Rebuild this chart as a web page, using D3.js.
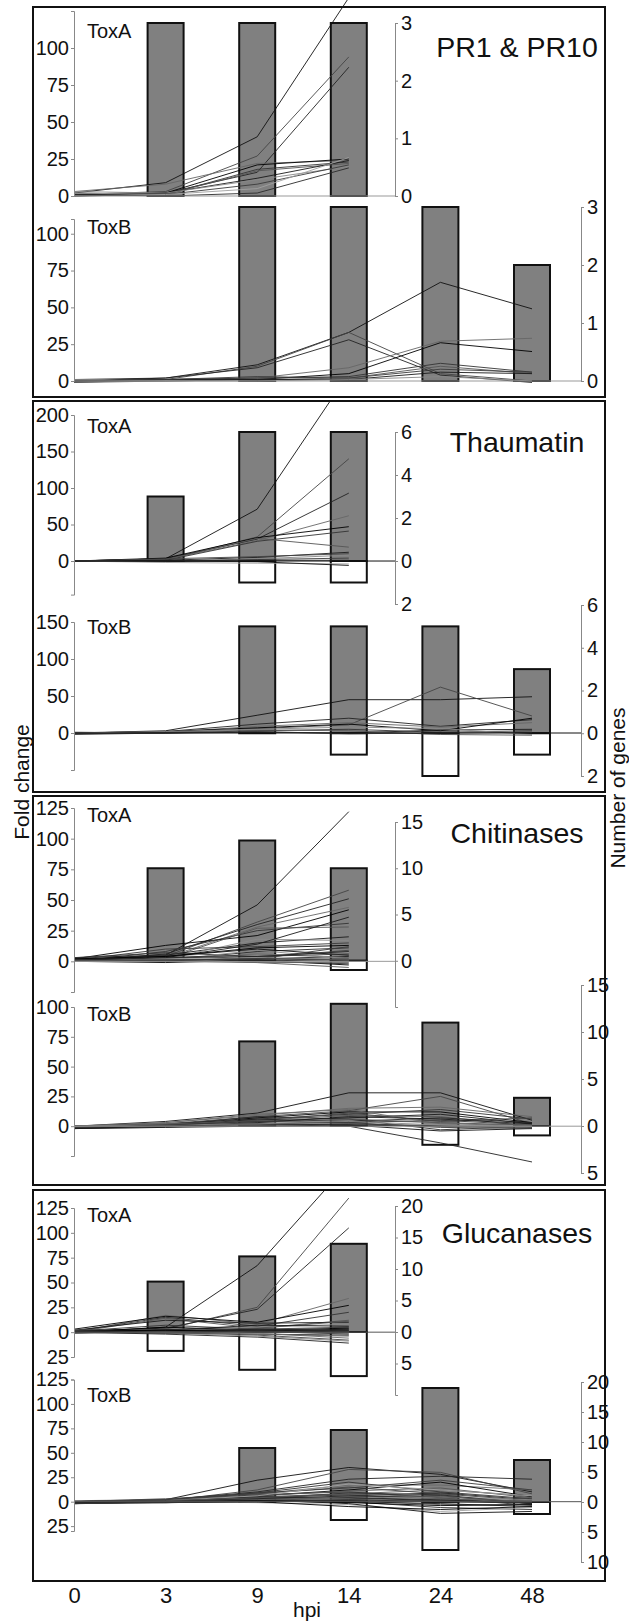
<!DOCTYPE html>
<html>
<head>
<meta charset="utf-8">
<script src="https://cdn.jsdelivr.net/npm/d3@7/dist/d3.min.js"></script>
<style>
  html, body { margin: 0; padding: 0; background: #fff; }
  svg { display: block; }
  text { font-family: "Liberation Sans", Arial, sans-serif; fill: #111; }
</style>
</head>
<body>
<svg id="chart" width="629" height="1621"></svg>
<script>
// Sampling times (hours post infiltration)
const hpi = ["0", "3", "9", "14", "24", "48"];

const groupTitles = ["PR1 & PR10", "Thaumatin", "Chitinases", "Glucanases"];
const toxinLabels = ["ToxA", "ToxB"];

// Number of genes up- (grey bars) and down-regulated (open bars) per time point
const pr1ToxAUp = [0, 3, 3, 3];
const pr1ToxADown = [0, 0, 0, 0];
const pr1ToxBUp = [0, 0, 3, 3, 3, 2];
const pr1ToxBDown = [0, 0, 0, 0, 0, 0];

const thaumToxAUp = [0, 3, 6, 6];
const thaumToxADown = [0, 0, 1, 1];
const thaumToxBUp = [0, 0, 5, 5, 5, 3];
const thaumToxBDown = [0, 0, 0, 1, 2, 1];

const chitToxAUp = [0, 10, 13, 10];
const chitToxADown = [0, 0, 0, 1];
const chitToxBUp = [0, 0, 9, 13, 11, 3];
const chitToxBDown = [0, 0, 0, 0, 2, 1];

const glucToxAUp = [0, 8, 12, 14];
const glucToxADown = [0, 3, 6, 7];
const glucToxBUp = [0, 0, 9, 12, 19, 7];
const glucToxBDown = [0, 0, 0, 3, 8, 2];

// Fold change of individual genes over time
const pr1ToxALines = [
  [2, 9, 40, 134], [1, 3, 27, 94], [0, 2, 16, 87], [3, 8, 22, 24],
  [1, 2, 21, 25], [2, 1, 18, 23], [0, 1, 17, 22], [1, 2, 12, 24],
  [3, 2, 11, 20], [0, 1, 8, 21], [1, 0, 2, 19], [2, 1, 5, 26]
];
const pr1ToxBLines = [
  [0, 2, 11, 33, 67, 49], [0, 1, 10, 33, 5, 0], [1, 2, 9, 28, 4, -1],
  [-1, 1, 2, 9, 27, 29], [0, 0, 1, 5, 26, 20], [0, 1, 2, 3, 12, 6],
  [-1, 0, 1, 2, 10, 5], [0, 1, 1, 1, 6, 5], [1, 0, 0, 1, 3, 0],
  [0, 1, 3, 2, 8, 6]
];
const thaumToxALines = [
  [0, 3, 71, 257], [0, 2, 33, 140], [0, 3, 30, 93], [0, 2, 28, 62],
  [0, 4, 32, 47], [0, 1, 27, 41], [0, 2, 31, 19], [0, 1, 5, 12],
  [0, 0, 3, 8], [0, -1, 2, 4], [0, 1, 1, 1], [0, -2, -3, -4],
  [0, 0, -1, -6], [0, 3, 6, 10]
];
const thaumToxBLines = [
  [0, 3, 24, 45, 45, 49], [0, 1, 6, 11, 62, 23], [-1, 2, 12, 20, 9, 18],
  [0, 1, 9, 14, 8, 14], [0, 2, 7, 12, 3, 20], [-2, 0, 3, 5, 1, 3],
  [0, 1, 4, 3, -2, -3], [1, 0, 1, 0, 4, 5], [0, 2, 5, 8, 6, -2],
  [-1, 0, 2, -1, 0, 1]
];
const chitToxALines = [
  [1, 5, 46, 122], [2, 4, 32, 58], [0, 6, 30, 51], [1, 3, 28, 44],
  [2, 13, 21, 42], [0, 8, 25, 31], [1, 2, 27, 28], [3, 5, 15, 20],
  [0, 2, 18, 17], [1, 10, 12, 15], [2, 1, 8, 11], [0, 3, 5, 7],
  [1, 4, 10, 5], [2, 1, 3, 9], [0, 0, 2, 4], [1, 2, 6, 3],
  [0, -1, 1, -3], [3, 7, 4, 6], [1, 0, -1, -5], [0, 3, 14, 36],
  [2, 1, 9, 2], [0, 5, 2, 12], [0, 1, 0, -2], [1, 2, 3, 1],
  [2, 0, 1, 0], [0, 1, 2, 2], [1, 3, 4, 8], [0, 2, -1, -1],
  [2, 4, 11, 13], [1, 1, 2, 1]
];
const chitToxBLines = [
  [0, 4, 11, 28, 28, 5], [0, 2, 8, 13, 25, 2], [-1, 0, 0, 0, -14, -30],
  [0, 3, 9, 15, 16, 8], [-2, 1, 7, 12, 12, 3], [0, 2, 6, 10, 14, 6],
  [-1, 0, 5, 9, 8, 0], [0, 1, 4, 7, 10, 2], [-2, -1, 3, 5, 3, -1],
  [0, 0, 2, 3, 5, 1], [-1, 1, 8, 6, -3, 0], [0, 2, 1, 2, 1, -2],
  [-2, -1, 0, 1, -4, -2], [0, 1, 5, 11, 4, 7], [-1, 0, 6, 4, 7, 3],
  [0, 3, 10, 14, 2, 1], [0, 1, 2, 1, 0, 0], [-1, 0, 1, 2, 0, -1],
  [0, 2, 4, 6, 3, 1], [-2, 0, 3, 8, 6, 2], [0, 1, 2, 4, 1, 0],
  [-1, 1, 4, 3, -1, -2]
];
const glucToxALines = [
  [0, 5, 67, 170], [2, 3, 25, 135], [1, 4, 23, 105], [0, 17, 8, 34],
  [3, 16, 10, 27], [1, 15, 6, 20], [0, 14, 4, 12], [2, 12, 9, 10],
  [0, 3, 5, 8], [1, 2, 3, 5], [0, 1, 1, 2], [-1, 0, 0, 0],
  [0, -1, -2, -3], [1, 0, -3, -8], [0, -2, -5, -11], [2, 1, -1, -6],
  [0, 5, 2, 4], [1, 7, 3, 1], [0, 0, 4, 11], [-1, 2, 7, 6],
  [1, -1, -4, -9], [0, 3, 1, -2], [0, 1, 2, 0], [1, 0, -1, 1],
  [0, 2, 1, 3], [2, 1, 0, -1], [0, 1, 3, 2], [-1, 0, -2, -4],
  [1, 2, 0, 1], [0, -1, 1, 0]
];
const glucToxBLines = [
  [0, 2, 22, 35, 28, 10], [0, 1, 12, 33, 30, 8], [-1, 2, 10, 23, 26, 23],
  [0, 1, 8, 17, 17, 12], [-2, 0, 6, 12, 20, 5], [0, 1, 9, 20, 10, 3],
  [1, 2, 5, 8, 12, 6], [0, 0, 4, 5, 6, -2], [-1, 1, 3, 3, 2, 0],
  [0, 2, 7, 10, 4, -4], [-2, -1, 1, 0, -6, -8], [0, 0, -1, -3, -10, -6],
  [-1, 1, 2, -2, -12, -10], [0, 3, 8, 15, 8, 1], [-1, 0, 2, 6, 9, 2],
  [0, 1, 3, 1, -3, -3], [0, -1, 0, -5, -8, -5], [-2, 0, 4, 7, 3, 0],
  [0, 2, 6, 11, 14, 4], [-1, 1, 5, 4, 1, -1], [0, 0, 1, 2, 5, 2],
  [0, 2, 9, 14, 22, 12], [-1, 1, 3, 9, 7, -2], [0, 1, 6, 18, 12, 6],
  [0, 1, 2, 1, 0, -1], [-1, 0, 1, 2, 1, 0], [0, 1, 3, 4, 2, -2],
  [-1, 0, 2, 5, 3, 1], [0, 0, 1, -1, -4, -3], [-2, -1, 0, 2, 0, -1],
  [0, 1, 4, 8, 5, 0], [-1, 0, 1, 0, -2, -5]
];

// Axis tick values
const pr1LeftTicks = [0, 25, 50, 75, 100];
const pr1RightTicks = [0, 1, 2, 3];
const thaumLeftTicksA = [0, 50, 100, 150, 200];
const thaumLeftTicksB = [0, 50, 100, 150];
const thaumRightTicks = [-2, 0, 2, 4, 6];
const chitLeftTicksA = [0, 25, 50, 75, 100, 125];
const chitLeftTicksB = [0, 25, 50, 75, 100];
const chitRightTicksA = [0, 5, 10, 15];
const chitRightTicksB = [-5, 0, 5, 10, 15];
const glucLeftTicks = [-25, 0, 25, 50, 75, 100, 125];
const glucRightTicksA = [-5, 0, 5, 10, 15, 20];
const glucRightTicksB = [-10, -5, 0, 5, 10, 15, 20];

// ---- layout ----
const svg = d3.select("#chart");
const boxes = [
  { x: 33, y: 7, w: 572, h: 390 },
  { x: 33, y: 401, w: 572, h: 391 },
  { x: 33, y: 796, w: 572, h: 389 },
  { x: 33, y: 1190, w: 572, h: 391 }
];
const x = d3.scalePoint().domain(hpi).range([74, 532]);
const barW = 36;
const rightAxisX = [395, 581];
const zeroColors = ["#999", "#111", "#999", "#555"];
const lineGreys = ["#111", "#444", "#222", "#666", "#000", "#333", "#555", "#1a1a1a", "#888", "#3a3a3a", "#2a2a2a", "#a0a0a0"];

// Each sub-chart: data arrays plus its vertical placement
const subplots = [
  { box: 0, tox: 0, up: pr1ToxAUp, down: pr1ToxADown, lines: pr1ToxALines,
    lDom: [0, 125], lRange: [196, 11], lTicks: pr1LeftTicks,
    rDom: [0, 3], rRange: [196, 23], rTicks: pr1RightTicks, labelY: 38 },
  { box: 0, tox: 1, up: pr1ToxBUp, down: pr1ToxBDown, lines: pr1ToxBLines,
    lDom: [0, 110], lRange: [381, 219], lTicks: pr1LeftTicks,
    rDom: [0, 3], rRange: [381, 207], rTicks: pr1RightTicks, labelY: 234 },
  { box: 1, tox: 0, up: thaumToxAUp, down: thaumToxADown, lines: thaumToxALines,
    lDom: [-46, 200], lRange: [594.6, 415], lTicks: thaumLeftTicksA,
    rDom: [-2, 6], rRange: [604, 432], rTicks: thaumRightTicks, labelY: 433 },
  { box: 1, tox: 1, up: thaumToxBUp, down: thaumToxBDown, lines: thaumToxBLines,
    lDom: [-50, 150], lRange: [770, 622], lTicks: thaumLeftTicksB,
    rDom: [-2, 6], rRange: [776, 605], rTicks: thaumRightTicks, labelY: 634 },
  { box: 2, tox: 0, up: chitToxAUp, down: chitToxADown, lines: chitToxALines,
    lDom: [-25, 125], lRange: [992, 808], lTicks: chitLeftTicksA,
    rDom: [-5, 15], rRange: [1007, 822], rTicks: chitRightTicksA, labelY: 822 },
  { box: 2, tox: 1, up: chitToxBUp, down: chitToxBDown, lines: chitToxBLines,
    lDom: [-25, 100], lRange: [1156, 1007], lTicks: chitLeftTicksB,
    rDom: [-5, 15], rRange: [1173, 985], rTicks: chitRightTicksB, labelY: 1021 },
  { box: 3, tox: 0, up: glucToxAUp, down: glucToxADown, lines: glucToxALines,
    lDom: [-25, 125], lRange: [1357, 1208], lTicks: glucLeftTicks,
    rDom: [-10, 20], rRange: [1395, 1206], rTicks: glucRightTicksA, labelY: 1222 },
  { box: 3, tox: 1, up: glucToxBUp, down: glucToxBDown, lines: glucToxBLines,
    lDom: [-30, 125], lRange: [1531, 1379.5], lTicks: glucLeftTicks,
    rDom: [-10, 20], rRange: [1562, 1382], rTicks: glucRightTicksB, labelY: 1402 }
];
const titleY = [57, 452, 843, 1243];

// clip regions, one per group frame
const defs = svg.append("defs");
boxes.forEach((b, i) => {
  defs.append("clipPath").attr("id", "clip" + i)
    .append("rect").attr("x", b.x).attr("y", i === 0 ? 0 : b.y)
    .attr("width", b.w).attr("height", b.h + (i === 0 ? b.y : 0));
});

const fmt = d => Math.abs(d);
const FONT = '"Liberation Sans", Arial, sans-serif';

subplots.forEach(sp => {
  const n = sp.up.length;
  const cats = hpi.slice(0, n);
  const yL = d3.scaleLinear().domain(sp.lDom).range(sp.lRange);
  const yR = d3.scaleLinear().domain(sp.rDom).range(sp.rRange);
  const rx = rightAxisX[sp.tox];
  const g = svg.append("g");

  // gene-count bars
  const bars = g.append("g");
  bars.selectAll("rect.up").data(cats.map((c, i) => ({ c, v: sp.up[i] })).filter(d => d.v > 0))
    .join("rect").attr("class", "up")
    .attr("x", d => x(d.c) - barW / 2).attr("width", barW)
    .attr("y", d => yR(d.v)).attr("height", d => yR(0) - yR(d.v))
    .attr("fill", "#808080").attr("stroke", "#111").attr("stroke-width", 2);
  bars.selectAll("rect.down").data(cats.map((c, i) => ({ c, v: sp.down[i] })).filter(d => d.v > 0))
    .join("rect").attr("class", "down")
    .attr("x", d => x(d.c) - barW / 2).attr("width", barW)
    .attr("y", yR(0)).attr("height", d => yR(-d.v) - yR(0))
    .attr("fill", "#fff").attr("stroke", "#111").attr("stroke-width", 2);

  // fold-change profiles
  const line = d3.line().x((d, i) => x(hpi[i])).y(d => yL(d));
  g.append("g").attr("clip-path", `url(#clip${sp.box})`)
    .selectAll("path").data(sp.lines).join("path")
    .attr("d", line).attr("fill", "none")
    .attr("stroke", (d, i) => lineGreys[i % lineGreys.length])
    .attr("stroke-width", 0.9);

  // zero reference line
  g.append("line").attr("x1", x("0")).attr("x2", rx)
    .attr("y1", yL(0)).attr("y2", yL(0))
    .attr("stroke", zeroColors[sp.box]).attr("stroke-width", 1);

  // fold change axis (left)
  const la = g.append("g").attr("transform", `translate(${x("0")},0)`)
    .call(d3.axisLeft(yL).tickValues(sp.lTicks).tickFormat(fmt).tickSize(3).tickSizeOuter(3).tickPadding(2));
  // number of genes axis (right)
  const ra = g.append("g").attr("transform", `translate(${rx},0)`)
    .call(d3.axisRight(yR).tickValues(sp.rTicks).tickFormat(fmt).tickSize(3).tickSizeOuter(3).tickPadding(3));
  [la, ra].forEach(a => {
    a.selectAll("path, line").attr("stroke", "#888").attr("stroke-width", 1);
    a.selectAll("text").style("font-size", "20px").attr("fill", "#111")
      .style("font-family", FONT);
  });

  g.append("text").attr("x", 87).attr("y", sp.labelY)
    .style("font-size", "20px").text(toxinLabels[sp.tox]);
});

// group frames and titles
boxes.forEach((b, i) => {
  svg.append("rect").attr("x", b.x).attr("y", b.y).attr("width", b.w).attr("height", b.h)
    .attr("fill", "none").attr("stroke", "#111").attr("stroke-width", 2);
  svg.append("text").attr("x", 517).attr("y", titleY[i]).attr("text-anchor", "middle")
    .style("font-size", "28.5px").text(groupTitles[i]);
});

// shared time axis
const bottom = svg.append("g").attr("transform", "translate(0,1583)")
  .call(d3.axisBottom(x).tickSize(0).tickPadding(4));
bottom.select(".domain").remove();
bottom.selectAll("text").style("font-size", "22px").attr("fill", "#111")
  .style("font-family", FONT);
svg.append("text").attr("x", 307).attr("y", 1617).attr("text-anchor", "middle")
  .style("font-size", "21px").text("hpi");

// axis titles
svg.append("text").attr("transform", "translate(29,782) rotate(-90)")
  .attr("text-anchor", "middle").style("font-size", "21px").text("Fold change");
svg.append("text").attr("transform", "translate(625,788) rotate(-90)")
  .attr("text-anchor", "middle").style("font-size", "21px").text("Number of genes");
</script>
</body>
</html>
